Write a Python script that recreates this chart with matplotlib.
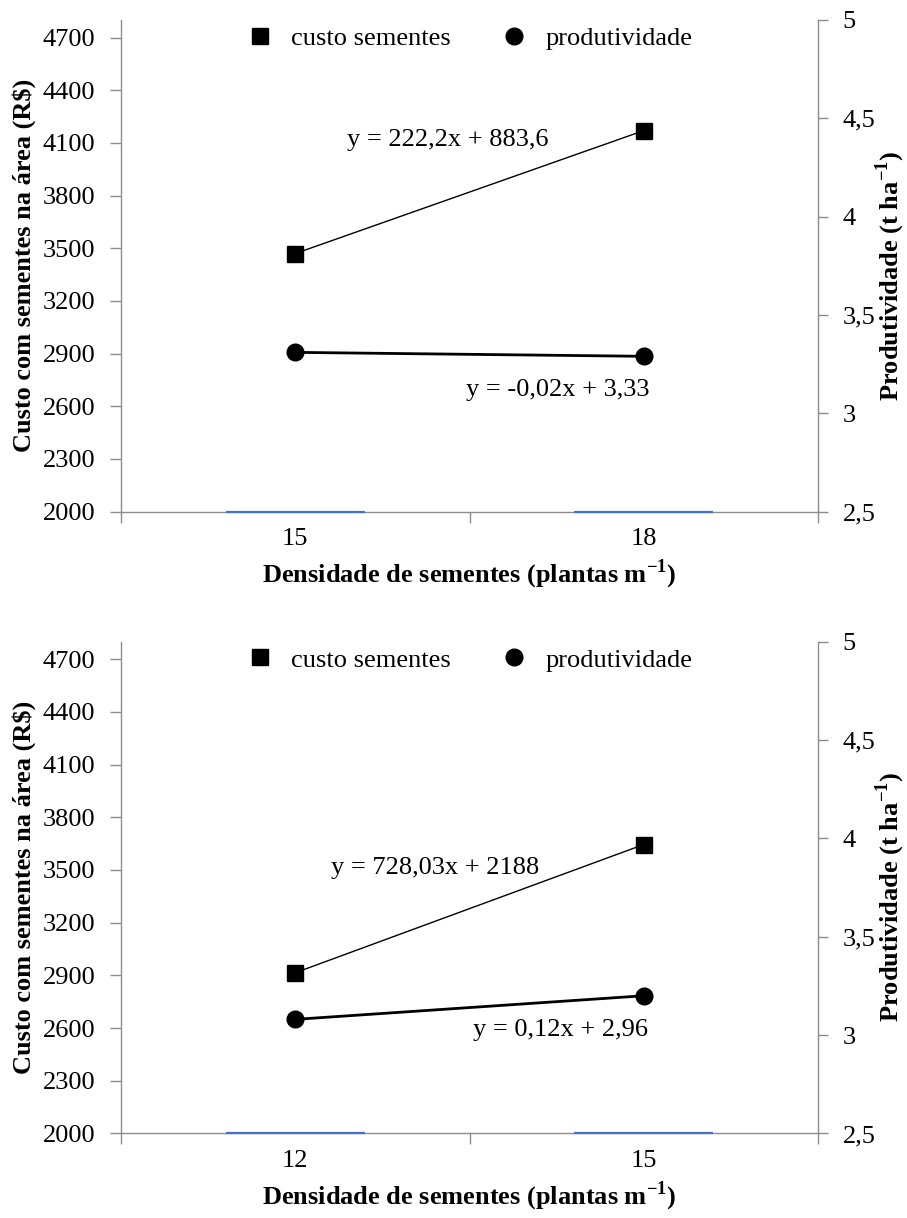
import matplotlib
matplotlib.use("Agg")
import matplotlib.pyplot as plt

plt.rcParams["font.family"] = ["Liberation Serif", "DejaVu Serif"]
plt.rcParams["mathtext.fontset"] = "custom"
plt.rcParams["mathtext.rm"] = "Liberation Serif"
plt.rcParams["mathtext.bf"] = "Liberation Serif:bold"
plt.rcParams["font.size"] = 19

# ---- dados ----
dens_a = ["15", "18"]
custo_a = [3470, 4170]
prod_a = [3.31, 3.29]
eq_custo_a = "y = 222,2x + 883,6"
eq_prod_a = "y = -0,02x + 3,33"

dens_b = ["12", "15"]
custo_b = [2915, 3645]
prod_b = [3.08, 3.20]
eq_custo_b = "y = 728,03x + 2188"
eq_prod_b = "y = 0,12x + 2,96"

barras = [0, 0]  # serie de colunas (aparece como traço azul na base)

custo_ticks = list(range(2000, 4701, 300))
prod_ticks = [2.5, 3, 3.5, 4, 4.5, 5]
prod_ticklabels = ["2,5", "3", "3,5", "4", "4,5", "5"]

cinza = "#8c8c8c"
azul = "#4472C4"


def painel(ax, dens, custo, prod, eq_c, eq_p, pos_c, pos_p):
    x = list(range(len(dens)))
    ax2 = ax.twinx()

    ax.bar(x, barras, width=0.4, bottom=custo_ticks[0], color=azul,
           edgecolor=azul, linewidth=1.6, zorder=3, clip_on=False)

    # linhas de tendência
    ax.plot(x, custo, color="black", lw=1.0, zorder=4)
    ax2.plot(x, prod, color="black", lw=2.0, zorder=4)

    ax.plot(x, custo, ls="none", marker="s", ms=12, color="black",
            label="custo sementes", zorder=5)
    ax2.plot(x, prod, ls="none", marker="o", ms=12, color="black",
             label="produtividade", zorder=5)

    ax.set_xlim(-0.5, 1.5)
    ax.set_ylim(2000, 4800)
    ax2.set_ylim(2.5, 5)

    ax.set_yticks(custo_ticks)
    ax2.set_yticks(prod_ticks)
    ax2.set_yticklabels(prod_ticklabels)

    ax.set_xticks([-0.5, 0.5, 1.5])
    ax.set_xticklabels([])
    ax.set_xticks(x, minor=True)
    ax.set_xticklabels(dens, minor=True)
    ax.tick_params(axis="x", which="minor", length=0, pad=12)
    ax.tick_params(axis="x", which="major", length=8, color=cinza, width=1)
    ax.tick_params(axis="y", length=8, color=cinza, width=1, pad=10.5)
    ax2.tick_params(axis="y", length=7, color=cinza, width=1, pad=10.8)

    for a in (ax, ax2):
        a.spines["top"].set_visible(False)
        for s in a.spines.values():
            s.set_color(cinza)
            s.set_linewidth(1)
    ax.spines["right"].set_visible(False)
    ax2.spines["left"].set_visible(False)
    ax2.spines["bottom"].set_visible(False)

    ax.set_ylabel("Custo com sementes na área (R$)", fontweight="bold")
    ax.yaxis.set_label_coords(-0.122, 0.5)
    ax2.set_ylabel(r"Produtividade (t ha$^{\mathbf{-1}}$)", fontweight="bold")
    ax2.yaxis.set_label_coords(1.079, 0.48)
    ax.set_xlabel(r"Densidade de sementes (plantas m$^{\mathbf{-1}}$)",
                  fontweight="bold", labelpad=5)

    ax.text(pos_c[0], pos_c[1], eq_c, ha="center", va="center",
            transform=ax.transData)
    ax.text(pos_p[0], pos_p[1], eq_p, ha="center", va="center",
            transform=ax.transData)

    h1, l1 = ax.get_legend_handles_labels()
    h2, l2 = ax2.get_legend_handles_labels()
    ax2.legend(h1 + h2, l1 + l2, loc="upper center", bbox_to_anchor=(0.5, 1.0),
               ncol=2, frameon=False, handlelength=1.0, handletextpad=0.67,
               columnspacing=1.92, borderaxespad=0, borderpad=0.25)


fig = plt.figure(figsize=(9.07, 12.18), dpi=100)
ax_a = fig.add_axes([0.1334, 0.5799, 0.7685, 0.4037])
ax_b = fig.add_axes([0.1334, 0.0694, 0.7685, 0.4038])

painel(ax_a, dens_a, custo_a, prod_a, eq_custo_a, eq_prod_a,
       (0.438, 4116), (0.7525, 2693))
painel(ax_b, dens_b, custo_b, prod_b, eq_custo_b, eq_prod_b,
       (0.40, 3511), (0.761, 2589))

fig.savefig("out.png", dpi=100)
